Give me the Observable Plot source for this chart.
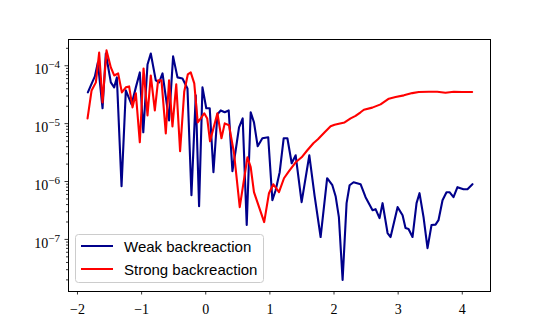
<!DOCTYPE html>
<html><head><meta charset="utf-8">
<script src="https://cdn.jsdelivr.net/npm/d3@7"></script>
<script src="https://cdn.jsdelivr.net/npm/@observablehq/plot@0.6"></script>
<style>
body{margin:0;background:#fff;}
#wrap{position:relative;width:545px;height:327px;}
</style></head>
<body><div id="wrap"></div>
<script>
const series = ["Weak backreaction", "Strong backreaction"];
const colors = ["#00008b", "#ff0000"];

const weakX = [-1.838,-1.791,-1.729,-1.682,-1.609,-1.558,-1.480,-1.428,-1.386,-1.313,-1.246,-1.157,-1.090,-1.028,-0.974,-0.908,-0.857,-0.779,-0.727,-0.674,-0.572,-0.509,-0.441,-0.363,-0.285,-0.223,-0.156,-0.104,-0.051,0.008,0.062,0.120,0.182,0.234,0.296,0.358,0.416,0.467,0.519,0.576,0.639,0.701,0.752,0.810,0.883,0.974,1.039,1.090,1.153,1.215,1.273,1.340,1.402,1.495,1.615,1.698,1.791,1.893,1.974,2.025,2.076,2.134,2.196,2.243,2.305,2.414,2.492,2.601,2.648,2.710,2.757,2.835,2.882,2.991,3.069,3.115,3.162,3.224,3.287,3.333,3.396,3.458,3.520,3.583,3.629,3.692,3.754,3.801,3.863,3.925,4.019,4.081,4.159];
const weakY = [3.47e-5,4.58e-5,6.54e-5,1.14e-4,1.84e-5,1.63e-4,5.16e-5,4.23e-5,6.29e-5,8.30e-7,3.75e-5,2.15e-5,4.23e-5,7.66e-5,7.08e-6,1.05e-4,1.63e-4,5.58e-5,5.16e-5,7.36e-5,1.14e-5,1.45e-4,6.29e-5,6.04e-5,4.06e-5,5.81e-7,3.08e-5,3.75e-7,4.23e-5,1.84e-5,1.84e-5,1.45e-6,1.45e-5,1.69e-5,1.57e-5,1.69e-5,1.51e-6,3.47e-6,8.63e-6,1.23e-5,1.77e-7,1.57e-5,1.05e-5,4.06e-6,5.58e-6,5.81e-6,4.76e-7,7.08e-7,1.45e-6,5.58e-6,5.58e-6,2.07e-6,2.84e-6,4.40e-7,2.84e-6,5.58e-7,1.10e-7,1.14e-6,8.63e-7,5.58e-7,2.42e-7,1.99e-8,4.23e-7,8.63e-7,9.73e-7,8.98e-7,5.36e-7,3.20e-7,3.33e-7,2.33e-7,4.23e-7,1.29e-7,1.10e-7,3.61e-7,2.62e-7,1.57e-7,1.51e-7,1.10e-7,4.23e-7,6.29e-7,2.42e-7,7.08e-8,1.77e-7,1.80e-7,2.15e-7,4.76e-7,6.54e-7,6.54e-7,5.36e-7,7.98e-7,7.36e-7,7.36e-7,8.98e-7];

const strongX = [-1.843,-1.780,-1.713,-1.662,-1.609,-1.547,-1.480,-1.428,-1.366,-1.308,-1.246,-1.195,-1.142,-1.090,-1.028,-0.970,-0.908,-0.857,-0.794,-0.743,-0.690,-0.623,-0.572,-0.519,-0.460,-0.400,-0.335,-0.280,-0.234,-0.179,-0.125,-0.078,-0.023,0.023,0.067,0.120,0.182,0.245,0.296,0.363,0.441,0.530,0.650,0.701,0.752,0.911,0.986,1.054,1.142,1.220,1.298,1.402,1.495,1.584,1.678,1.749,1.854,1.947,2.009,2.076,2.165,2.259,2.336,2.414,2.466,2.597,2.726,2.855,2.960,3.089,3.220,3.322,3.478,3.609,3.738,3.868,3.998,4.154];
const strongY = [1.23e-5,3.75e-5,5.16e-5,1.69e-4,2.33e-5,1.84e-4,9.35e-5,6.80e-5,7.36e-5,3.47e-5,4.23e-5,4.40e-5,1.91e-5,3.33e-5,4.76e-6,8.98e-5,1.39e-5,6.80e-5,1.69e-5,5.58e-5,5.58e-5,6.80e-6,5.58e-5,8.98e-6,4.76e-5,3.33e-6,3.60e-5,7.08e-5,7.66e-5,4.95e-5,1.05e-5,1.23e-5,1.51e-5,1.23e-5,4.95e-6,8.30e-6,1.51e-5,5.58e-6,1.01e-5,9.35e-6,3.08e-6,3.61e-7,2.62e-6,1.77e-6,6.54e-7,1.99e-7,6.29e-7,8.98e-7,6.54e-7,1.14e-6,1.51e-6,2.15e-6,2.62e-6,3.47e-6,4.58e-6,5.36e-6,7.08e-6,8.98e-6,9.53e-6,9.92e-6,1.05e-5,1.23e-5,1.36e-5,1.57e-5,1.74e-5,1.89e-5,2.15e-5,2.70e-5,2.88e-5,3.08e-5,3.37e-5,3.51e-5,3.56e-5,3.56e-5,3.42e-5,3.56e-5,3.51e-5,3.51e-5];

const xTicks = [-2, -1, 0, 1, 2, 3, 4];
const yTicks = [1e-7, 1e-6, 1e-5, 1e-4];

const yDomain = [1.26e-8, 2.84e-4];
const xDomain = [-2.14, 4.44];

const weak = weakX.map((x, i) => ({x, y: weakY[i], s: series[0]}));
const strong = strongX.map((x, i) => ({x, y: strongY[i], s: series[1]}));

const minor = [];
for (let e = -9; e <= -4; e++) for (let m = 2; m <= 9; m++) {
  const v = m * Math.pow(10, e);
  if (v >= yDomain[0] && v <= yDomain[1]) minor.push(v);
}

const serif = "'Liberation Serif', 'DejaVu Serif', serif";

const chart = Plot.plot({
  width: 545, height: 327,
  marginLeft: 68, marginRight: 55, marginTop: 39, marginBottom: 36,
  style: {fontFamily: serif, fontSize: "14px", background: "white", color: "black"},
  x: {domain: xDomain},
  y: {type: "log", domain: yDomain},
  marks: [
    Plot.axisY(minor, {tickSize: 2, tickFormat: () => "", strokeWidth: 0.8, label: null}),
    Plot.axisY(yTicks, {tickSize: 3.5, tickPadding: 5, strokeWidth: 0.8, label: null,
      tickFormat: d => "10^" + String(Math.round(Math.log10(d))).replace("-", "\u2212"), fontSize: 14}),
    Plot.axisX(xTicks, {tickSize: 3.5, tickPadding: 9, strokeWidth: 0.8, label: null, fontSize: 14}),
    Plot.line(weak, {x: "x", y: "y", stroke: colors[0], strokeWidth: 2.1, strokeLinejoin: "round"}),
    Plot.line(strong, {x: "x", y: "y", stroke: colors[1], strokeWidth: 2.1, strokeLinejoin: "round"}),
    Plot.frame({stroke: "black", strokeWidth: 1})
  ]
});

document.getElementById("wrap").appendChild(chart);

// superscript exponents on y tick labels
d3.select(chart).selectAll('g[aria-label="y-axis tick label"] text').each(function() {
  const t = d3.select(this);
  const s = t.text();
  if (!s.includes("^")) return;
  const [base, exp] = s.split("^");
  t.text(null).attr("dy", "0.27em");
  t.append("tspan").text(base);
  t.append("tspan").attr("dy", "-0.55em").attr("font-size", "11px").text(exp);
});

// legend
const svg = d3.select(chart);
const lg = svg.append("g").attr("font-family", "'Liberation Sans', Arial, sans-serif").attr("font-size", "15px")
  .attr("text-anchor", "start");
lg.append("rect").attr("x", 75.5).attr("y", 234.5).attr("width", 188).attr("height", 48).attr("rx", 3)
  .attr("fill", "white").attr("fill-opacity", 0.8).attr("stroke", "#cccccc").attr("stroke-width", 1);
series.forEach((name, i) => {
  const cy = 246 + i * 23;
  lg.append("line").attr("x1", 81).attr("x2", 113).attr("y1", cy).attr("y2", cy)
    .attr("stroke", colors[i]).attr("stroke-width", 2);
  lg.append("text").attr("x", 124).attr("y", cy + 5.5).attr("fill", "black")
    .attr("text-anchor", "start").text(name);
});
</script>
</body></html>
